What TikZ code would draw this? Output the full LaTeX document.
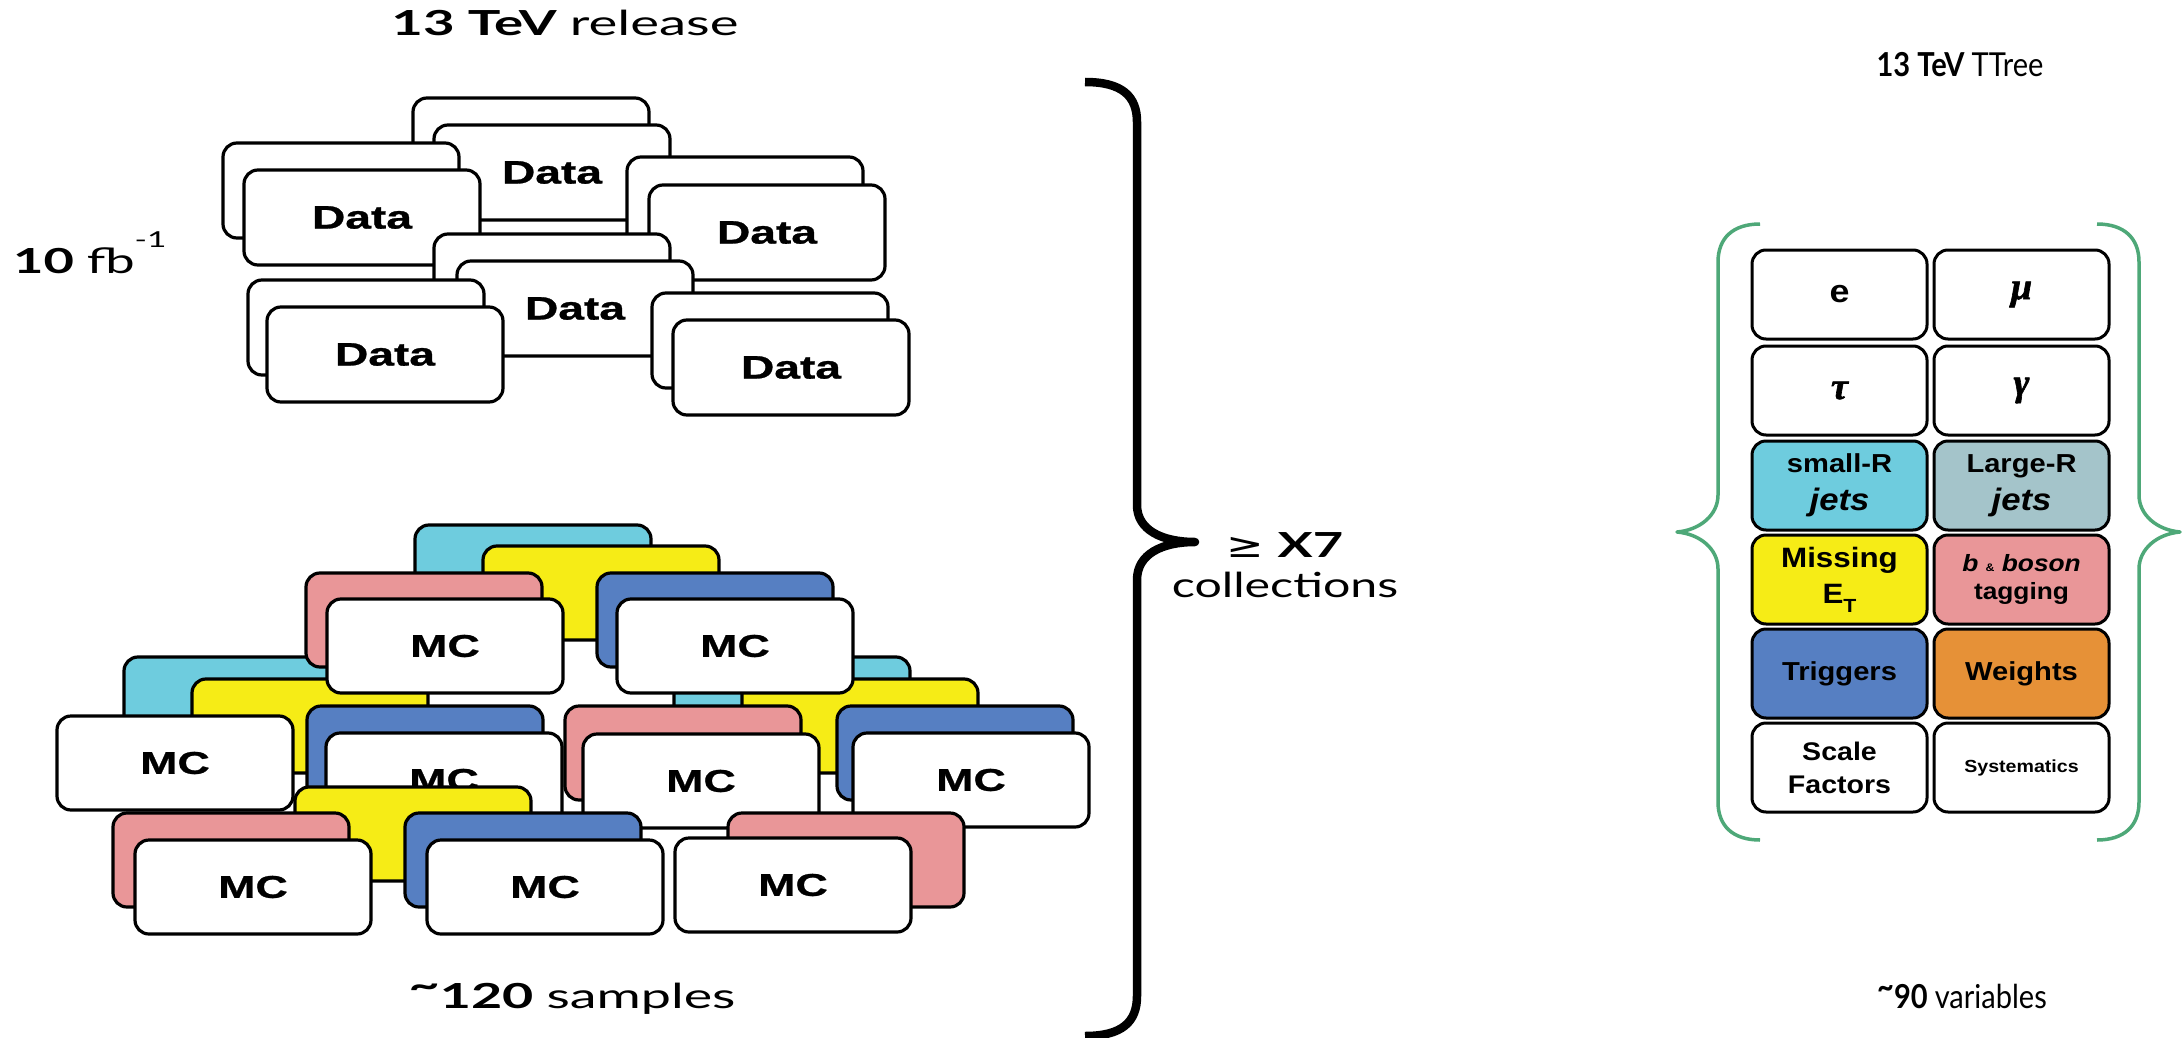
\documentclass[tikz,border=0pt]{standalone}
\usepackage{fontspec}
\setmainfont{Liberation Sans}
% wide faces for the sample cards and the captions
\newfontfamily\cardfont[FakeStretch=1.42,FakeBold=0.9]{Liberation Sans}
\newfontfamily\cellfont[FakeStretch=1.12]{Liberation Sans}
\newfontfamily\capfont[FakeStretch=1.52]{Lato}
\newfontfamily\smallcapfont[FakeStretch=0.88]{Lato}
\newfontfamily\symbfont[FakeStretch=1.3]{DejaVu Sans}
\newfontfamily\greekfont[FakeBold=1.6]{Liberation Serif}

\definecolor{mccyan}{RGB}{110,204,222}
\definecolor{mcyellow}{RGB}{246,236,22}
\definecolor{mcpink}{RGB}{233,150,152}
\definecolor{mcblue}{RGB}{86,127,194}
\definecolor{largeR}{RGB}{164,196,202}
\definecolor{wtorange}{RGB}{230,145,55}
\definecolor{bracegreen}{RGB}{78,168,120}

\newcommand\greekcell[1]{{\greekfont\bfseries\itshape\fontsize{38}{40}\selectfont #1}}

\tikzset{
  card/.style={draw=black, line width=3.2pt, rounded corners=14pt,
    minimum width=236pt, inner sep=0pt, outer sep=0pt, anchor=north west},
  databox/.style={card, fill=white, minimum height=95pt,
    font=\cardfont\bfseries\fontsize{32.5}{36}\selectfont},
  mcbox/.style={card, fill=white, minimum height=94pt,
    font=\cardfont\bfseries\fontsize{31.5}{36}\selectfont},
  cell/.style={draw=black, line width=3pt, rounded corners=14pt, fill=white,
    minimum width=175pt, minimum height=89pt, inner sep=0pt, outer sep=0pt,
    anchor=north west, align=center,
    font=\cellfont\bfseries\fontsize{26}{30}\selectfont},
  bigcap/.style={font=\capfont\fontsize{34.5}{40}\selectfont, inner sep=0pt},
  sidecap/.style={font=\smallcapfont\fontsize{33}{38}\selectfont, inner sep=0pt},
  blackbrace/.style={draw=black, line width=8.5pt, line join=round},
  greenbrace/.style={draw=bracegreen, line width=3.5pt, line join=round}
}

\begin{document}
\begin{tikzpicture}[x=1pt,y=-1pt]
\useasboundingbox[fill=white] (0,0) rectangle (2184,1038);

% ---------------- data cards ----------------
\node[databox] (tcb) at (413,98) {};
\node[databox] (tcf) at (434,125) {Data};
\node[databox] (lb)  at (223,143) {};
\node[databox] (lf)  at (244,170) {Data};
\node[databox] (rb)  at (627,157) {};
\node[databox] (rf)  at (649,185) {Data};
\node[databox] (mbb) at (434,234) {};
\node[databox] (mbf) at (457,261) {Data};
\node[databox] (blb) at (248,280) {};
\node[databox] (blf) at (267,307) {Data};
\node[databox] (brb) at (652,293) {};
\node[databox] (brf) at (673,320) {Data};

% ---------------- simulated samples ----------------
% middle row, back pairs
\node[mcbox, fill=mccyan]   (m2lc) at (124,657) {};
\node[mcbox, fill=mcyellow] (m2ly) at (192,679) {};
\node[mcbox, fill=mccyan]   (m2rc) at (674,657) {};
\node[mcbox, fill=mcyellow] (m2ry) at (742,679) {};
% top group
\node[mcbox, fill=mccyan]   (m1c)  at (415,525) {};
\node[mcbox, fill=mcyellow] (m1y)  at (483,546) {};
\node[mcbox, fill=mcpink]   (m1p)  at (306,573) {};
\node[mcbox]                (m1pw) at (327,599) {MC};
\node[mcbox, fill=mcblue]   (m1b)  at (597,573) {};
\node[mcbox]                (m1bw) at (617,599) {MC};
% middle row, front cards
\node[mcbox]                (m2w)  at (57,716) {MC};
\node[mcbox, fill=mcblue]   (m2lb) at (307,706) {};
\node[mcbox]                (m2lbw) at (326,733) {MC};
\node[mcbox, fill=mcpink]   (m2rp) at (565,706) {};
\node[mcbox]                (m2rpw) at (583,734) {MC};
\node[mcbox, fill=mcblue]   (m2rb) at (837,706) {};
\node[mcbox]                (m2rbw) at (853,733) {MC};
% bottom row
\node[mcbox, fill=mcyellow] (m3y)  at (295,787) {};
\node[mcbox, fill=mcpink]   (m3lp) at (113,813) {};
\node[mcbox]                (m3lpw) at (135,840) {MC};
\node[mcbox, fill=mcblue]   (m3b)  at (405,813) {};
\node[mcbox]                (m3bw) at (427,840) {MC};
\node[mcbox, fill=mcpink]   (m3rp) at (728,813) {};
\node[mcbox]                (m3rpw) at (675,838) {MC};

% ---------------- captions, left ----------------
\node[bigcap, anchor=base, font=\capfont\fontsize{34.5}{40}\selectfont\addfontfeatures{FakeStretch=1.58}]
  (release) at (565,36) {\bfseries 13 TeV \mdseries release};
\node[bigcap, anchor=base west] (lumi) at (13,273)
  {\bfseries 10 \mdseries fb\raisebox{0.75em}{\fontsize{22}{24}\selectfont -1}};
\node[bigcap, anchor=base, font=\capfont\fontsize{34.5}{40}\selectfont\addfontfeatures{FakeStretch=1.56}]
  (samples) at (572,1008)
  {\bfseries\raisebox{0.3em}{\textasciitilde}120 \mdseries samples};

% ---------------- collection brace ----------------
\draw[blackbrace] (1085,82) .. controls (1122,82) and (1137,96) .. (1137,122)
  -- (1137,505) .. controls (1137,530) and (1162,542) .. (1195,542)
  .. controls (1162,542) and (1137,554) .. (1137,580)
  -- (1137,996) .. controls (1137,1022) and (1122,1036) .. (1085,1036);
\node[bigcap, anchor=base] (times) at (1285,557) {{\symbfont ≥} \bfseries X7};
\node[bigcap, anchor=base, font=\capfont\fontsize{34.5}{40}\selectfont\addfontfeatures{FakeStretch=1.4}]
  (coll) at (1285,597) {collections};

% ---------------- tree contents ----------------
\node[cell] (ce)    at (1752,250) {\fontsize{32}{36}\selectfont e};
\node[cell] (cmu)   at (1934,250) {\greekcell{μ}};
\node[cell] (ctau)  at (1752,346) {\greekcell{τ}};
\node[cell] (cgam)  at (1934,346) {\greekcell{γ}};
\node[cell, fill=mccyan, font=\cellfont\bfseries\fontsize{26}{38}\selectfont] (csmall) at (1752,441)
  {small-R\\{\fontsize{31}{36}\selectfont\itshape jets}};
\node[cell, fill=largeR, font=\cellfont\bfseries\fontsize{26}{38}\selectfont] (clarge) at (1934,441)
  {Large-R\\{\fontsize{31}{36}\selectfont\itshape jets}};
\node[cell, fill=mcyellow, font=\cellfont\bfseries\fontsize{28}{36}\selectfont] (cmet) at (1752,535)
  {Missing\\E\raisebox{-0.32em}{\fontsize{19}{20}\selectfont T}};
\node[cell, fill=mcpink, font=\cellfont\bfseries\fontsize{23.5}{28}\selectfont] (cbtag) at (1934,535)
  {{\itshape b} {\fontsize{11}{11}\selectfont\&} {\itshape boson}\\tagging};
\node[cell, fill=mcblue] (ctrig) at (1752,629) {Triggers};
\node[cell, fill=wtorange] (cwgt) at (1934,629) {Weights};
\node[cell, font=\cellfont\bfseries\fontsize{25.5}{33}\selectfont] (csf) at (1752,723) {Scale\\Factors};
\node[cell, font=\cellfont\bfseries\fontsize{17.5}{20}\selectfont] (csys) at (1934,723) {Systematics};

% green braces around the tree contents
\draw[greenbrace] (1760,224) .. controls (1733,224) and (1718,238) .. (1718,262)
  -- (1718,495) .. controls (1718,515) and (1700,530) .. (1677,532)
  .. controls (1700,534) and (1718,549) .. (1718,569)
  -- (1718,802) .. controls (1718,826) and (1733,840) .. (1760,840);
\draw[greenbrace] (2097,224) .. controls (2124,224) and (2139,238) .. (2139,262)
  -- (2139,495) .. controls (2139,515) and (2157,530) .. (2180,532)
  .. controls (2157,534) and (2139,549) .. (2139,569)
  -- (2139,802) .. controls (2139,826) and (2124,840) .. (2097,840);

% ---------------- captions, right ----------------
\node[sidecap, anchor=base] (tree) at (1960,77) {\bfseries 13 TeV \mdseries TTree};
\node[sidecap, anchor=base] (vars) at (1962,1008)
  {\bfseries\raisebox{0.3em}{\textasciitilde}90 \mdseries variables};
\end{tikzpicture}
\end{document}
